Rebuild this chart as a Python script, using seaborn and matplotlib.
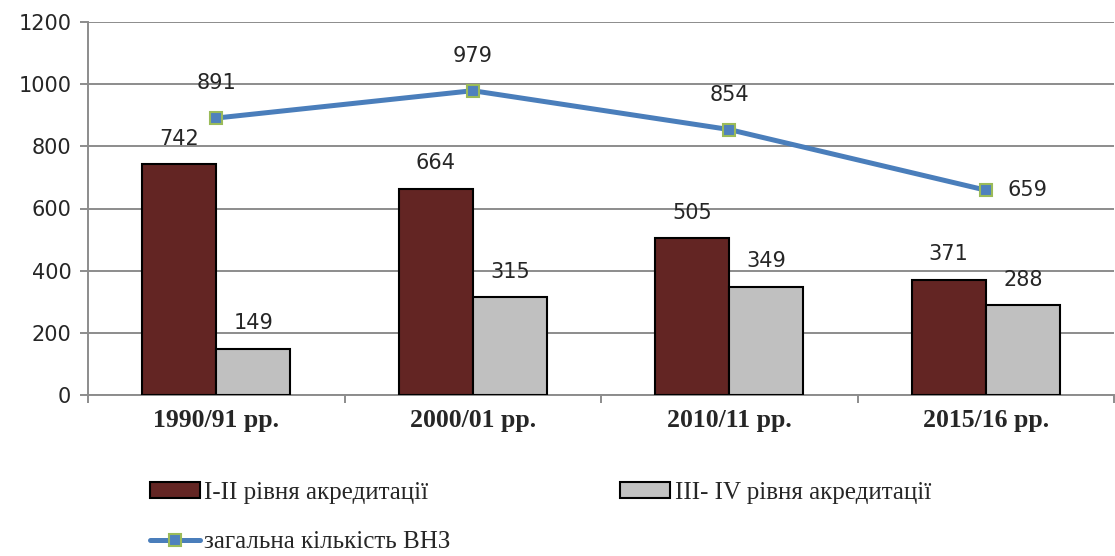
import pandas as pd
import numpy as np
import matplotlib.pyplot as plt
import seaborn as sns
from matplotlib.patches import Patch
from matplotlib.lines import Line2D

years = ["1990/91 рр.", "2000/01 рр.", "2010/11 рр.", "2015/16 рр."]
level_12 = [742, 664, 505, 371]
level_34 = [149, 315, 349, 288]
total = [891, 979, 854, 659]
series_names = ["I-II рівня акредитації", "III- IV рівня акредитації", "загальна кількість ВНЗ"]

bar_colors = ["#632523", "#C0C0C0"]
line_color = "#4A7EBB"

df = pd.DataFrame({
    "year": years * 2,
    "value": level_12 + level_34,
    "group": [series_names[0]] * 4 + [series_names[1]] * 4,
})

sns.set_style("white")
plt.rcParams["font.family"] = ["DejaVu Sans"]

fig = plt.figure(figsize=(11.15, 5.56), dpi=100)
ax = fig.add_axes([88 / 1115, 1 - 395 / 556, 1026 / 1115, 373 / 556])

sns.barplot(data=df, x="year", y="value", hue="group", palette=bar_colors,
            saturation=1, width=0.577, edgecolor="black", linewidth=1.5, ax=ax,
            legend=False, zorder=3)

for cont in ax.containers:
    ax.bar_label(cont, padding=11, fontsize=15)

sns.pointplot(x=years, y=total, color=line_color, markers="s", ax=ax,
              linewidth=3.6, markersize=9, markerfacecolor="#4F81BD",
              markeredgecolor="#9BBB59", markeredgewidth=1.5)
for ln in ax.lines:
    ln.set_zorder(5)

for i, v in enumerate(total):
    if i == len(total) - 1:
        ax.annotate(str(v), (i, v), xytext=(16, 0), textcoords="offset points",
                    ha="left", va="center", fontsize=15)
    else:
        ax.annotate(str(v), (i, v), xytext=(0, 18), textcoords="offset points",
                    ha="center", va="bottom", fontsize=15)

ax.set_ylim(0, 1200)
ax.set_yticks(range(0, 1201, 200))
ax.set_xlim(-0.5, 3.5)
ax.yaxis.grid(True, color="#8C8C8C", linewidth=1.4)
ax.set_axisbelow(True)
ax.set_xlabel("")
ax.set_ylabel("")

for s in ["top", "right"]:
    ax.spines[s].set_visible(False)
for s in ["left", "bottom"]:
    ax.spines[s].set_color("#8C8C8C")
    ax.spines[s].set_linewidth(1.4)

ax.tick_params(axis="y", length=6, width=1.4, color="#8C8C8C", labelsize=15, pad=6, left=True)
ax.set_xticks(range(4))
ax.set_xticklabels(years, fontfamily="Liberation Serif", fontweight="bold", fontsize=18.5)
ax.tick_params(axis="x", which="major", length=0, pad=10)
ax.set_xticks(np.arange(-0.5, 4, 1), minor=True)
ax.tick_params(axis="x", which="minor", length=6, width=1.4, color="#8C8C8C", bottom=True)

h_12 = Patch(facecolor=bar_colors[0], edgecolor="black", linewidth=1.5)
h_34 = Patch(facecolor=bar_colors[1], edgecolor="black", linewidth=1.5)
h_tot = Line2D([0], [0], color=line_color, linewidth=3.6, marker="s", markersize=9,
               markerfacecolor="#4F81BD", markeredgecolor="#9BBB59", markeredgewidth=1.5)
fig.legend([h_12, h_tot, h_34], [series_names[0], series_names[2], series_names[1]],
           loc="upper left", bbox_to_anchor=(127 / 1115, 1 - 459 / 556),
           ncol=2, frameon=False, prop={"family": "Liberation Serif", "size": 18},
           handlelength=2.0, handleheight=0.6, handletextpad=0.2, columnspacing=6.76,
           labelspacing=1.1)

fig.savefig("out.png", dpi=100)
